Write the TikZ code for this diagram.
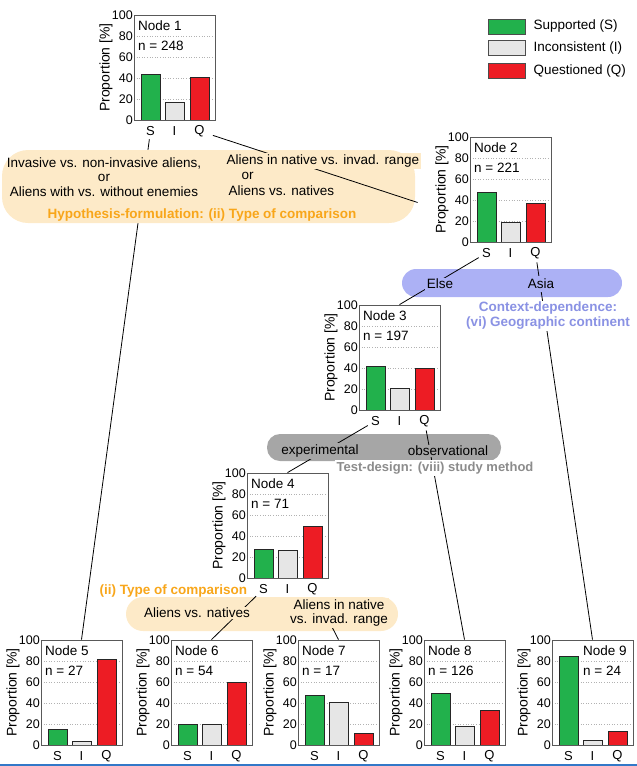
\documentclass[tikz,border=0pt]{standalone}
\usepackage{fontspec}
\setmainfont{Liberation Sans}
\usepackage{tikz}
\usetikzlibrary{positioning,calc}

\definecolor{supp}{RGB}{34,177,76}
\definecolor{inco}{RGB}{230,230,230}
\definecolor{ques}{RGB}{237,28,36}
\definecolor{obox}{RGB}{253,234,200}
\definecolor{otext}{RGB}{248,166,26}
\definecolor{bbox}{RGB}{172,177,245}
\definecolor{btext}{RGB}{138,146,228}
\definecolor{gbox}{RGB}{166,166,166}
\definecolor{gtext}{RGB}{140,140,140}
\definecolor{edgeline}{RGB}{50,120,200}

\pgfdeclarelayer{deep}
\pgfdeclarelayer{boxes}
\pgfdeclarelayer{edges}
\pgfsetlayers{deep,boxes,edges,main}

% name, x, y, title, n, S, I, Q, title x
\newcommand{\propchart}[9]{%
  \begin{scope}[shift={(#2,#3)}]
    \foreach \g in {20,40,60,80}
      \draw[grid] (0,{105-1.05*\g}) -- (81,{105-1.05*\g});
    \foreach \g in {0,20,...,100}
      \node[tick] (#1t\g) at (-1,{105-1.05*\g}) {\g};
    \draw[bar,fill=supp] (7,105) rectangle (26,{105-1.05*#6});
    \draw[bar,fill=inco] (31,105) rectangle (50,{105-1.05*#7});
    \draw[bar,fill=ques] (56,105) rectangle (75,{105-1.05*#8});
    \node[frame] (#1) at (40.5,52.5) {};
    \node[ylab] (#1y) at (-28,52.5) {Proportion [\%]};
    \node[ntext] (#1a) at (#9,11) {#4};
    \node[ntext] (#1b) at (#9,31) {n = #5};
    \node[cat] (#1S) at (16.5,116) {S};
    \node[cat] (#1I) at (40.5,116) {I};
    \node[cat] (#1Q) at (65.5,116) {Q};
  \end{scope}}

\begin{document}
\begin{tikzpicture}[
    x=1pt, y=-1pt,
    grid/.style = {draw=black!30, dotted, line width=0.6pt},
    tick/.style = {anchor=east, inner sep=0pt, font=\fontsize{12.5}{13}\selectfont},
    bar/.style = {draw=black!85, line width=0.8pt},
    frame/.style = {draw=black!65, line width=0.8pt, minimum width=81pt, minimum height=105pt, inner sep=0pt},
    ylab/.style = {rotate=90, inner sep=0pt, font=\fontsize{14}{15}\selectfont},
    ntext/.style = {anchor=west, inner sep=0pt, font=\fontsize{13.5}{14}\selectfont},
    cat/.style = {inner sep=1.5pt, font=\fontsize{13}{14}\selectfont},
    txt/.style = {inner sep=1.5pt, font=\fontsize{13.5}{14.5}\selectfont},
    head/.style = {inner sep=1.5pt, font=\fontsize{13.5}{15}\selectfont\bfseries},
    link/.style = {draw=black, line width=0.8pt, shorten <=2pt},
    swatch/.style = {draw=black!70, line width=0.8pt, minimum width=37pt, minimum height=15pt, inner sep=0pt},
    leglab/.style = {anchor=west, inner sep=0pt, font=\fontsize{13.5}{14}\selectfont},
  ]
  \useasboundingbox (0,0) rectangle (637,766);

  % charts
  \propchart{n1}{134}{15}{Node 1}{248}{43}{17}{41}{4}
  \propchart{n2}{470}{137}{Node 2}{221}{47}{19}{37}{4}
  \propchart{n3}{359}{305}{Node 3}{197}{42}{21}{40}{4}
  \propchart{n4}{247}{473}{Node 4}{71}{27}{26}{49}{4}
  \propchart{n5}{41}{640}{Node 5}{27}{15}{3}{82}{4}
  \propchart{n6}{171}{640}{Node 6}{54}{20}{20}{60}{4}
  \propchart{n7}{298}{640}{Node 7}{17}{47}{41}{11}{4}
  \propchart{n8}{424}{640}{Node 8}{126}{49}{18}{33}{4}
  \propchart{n9}{552}{640}{Node 9}{24}{84}{4}{13}{31}

  % legend
  \node[swatch,fill=supp] (legS) at (506.5,26.5) {};
  \node[swatch,fill=inco,below=6pt of legS] (legI) {};
  \node[swatch,fill=ques,below=7pt of legI] (legQ) {};
  \node[leglab,right=8pt of legS] (legSt) {Supported (S)};
  \node[leglab,right=8pt of legI] (legIt) {Inconsistent (I)};
  \node[leglab,right=8pt of legQ] (legQt) {Questioned (Q)};

  % split 1: type of comparison
  \node[txt,align=center] (cmpA) at (104,177) {Invasive vs. non-invasive aliens,\\or\\Aliens with vs. without enemies};
  \node[txt,fill=obox,anchor=west] (cmpB1) at (225,161) {Aliens in native vs. invad. range};
  \node[txt,anchor=west] (cmpB2) at (240,176) {or};
  \node[txt,fill=obox,anchor=west] (cmpB3) at (227,191) {Aliens vs. natives};
  \node[head,text=otext] (hypo) at (202,215) {Hypothesis-formulation: (ii) Type of comparison};
  \coordinate (n2in) at ($(n2.west)+(-52,13)$);

  % split 2: continent
  \node[txt,fill=bbox] (else) at (440,284) {Else};
  \node[txt,fill=bbox,inner sep=3pt] (asia) at (541,284) {Asia};
  \node[head,text=btext,fill=white,align=center] (ctx) at (548,316) {Context-dependence:\\(vi) Geographic continent};

  % split 3: study method
  \node[txt,fill=gbox] (expt) at (320,451) {experimental};
  \node[txt,fill=gbox] (obs) at (448,451) {observational};
  \node[head,text=gtext,fill=white,anchor=west,font=\fontsize{13}{14}\selectfont\bfseries] (tdes) at (335,468) {Test-design: (viii) study method};

  % split 4: type of comparison
  \node[head,text=otext,anchor=west] (type2) at (98,591) {(ii) Type of comparison};
  \node[txt,fill=obox] (nat) at (197,613) {Aliens vs. natives};
  \node[txt,fill=obox,align=center] (rng) at (339,613) {Aliens in native\\vs. invad. range};

  \begin{pgfonlayer}{boxes}
    \fill[obox,rounded corners=26pt] (2,150) rectangle (415,223);
    \fill[bbox,rounded corners=14pt] (402,269) rectangle (622,297);
    \fill[gbox,rounded corners=13pt] (267,434) rectangle (501,461);
    \fill[obox,rounded corners=17pt] (126,597) rectangle (398,631);
  \end{pgfonlayer}

  \begin{pgfonlayer}{deep}
    \draw[link] (n1S) -- (n5.north);
  \end{pgfonlayer}

  \begin{pgfonlayer}{edges}
    \draw[link,shorten <=7pt] (n1Q) -- (n2in);
    \draw[link] (n2S) -- (n3.north);
    \draw[link] (n2Q) -- (n9.north);
    \draw[link] (n3S) -- (n4.north);
    \draw[link] (n3Q) -- (n8.north);
    \draw[link] (n4S) -- (n6.north);
    \draw[link] (n4Q) -- (n7.north);
  \end{pgfonlayer}

  \draw[edgeline,line width=1.5pt] (0,765.2) -- (637,765.2);
\end{tikzpicture}
\end{document}
